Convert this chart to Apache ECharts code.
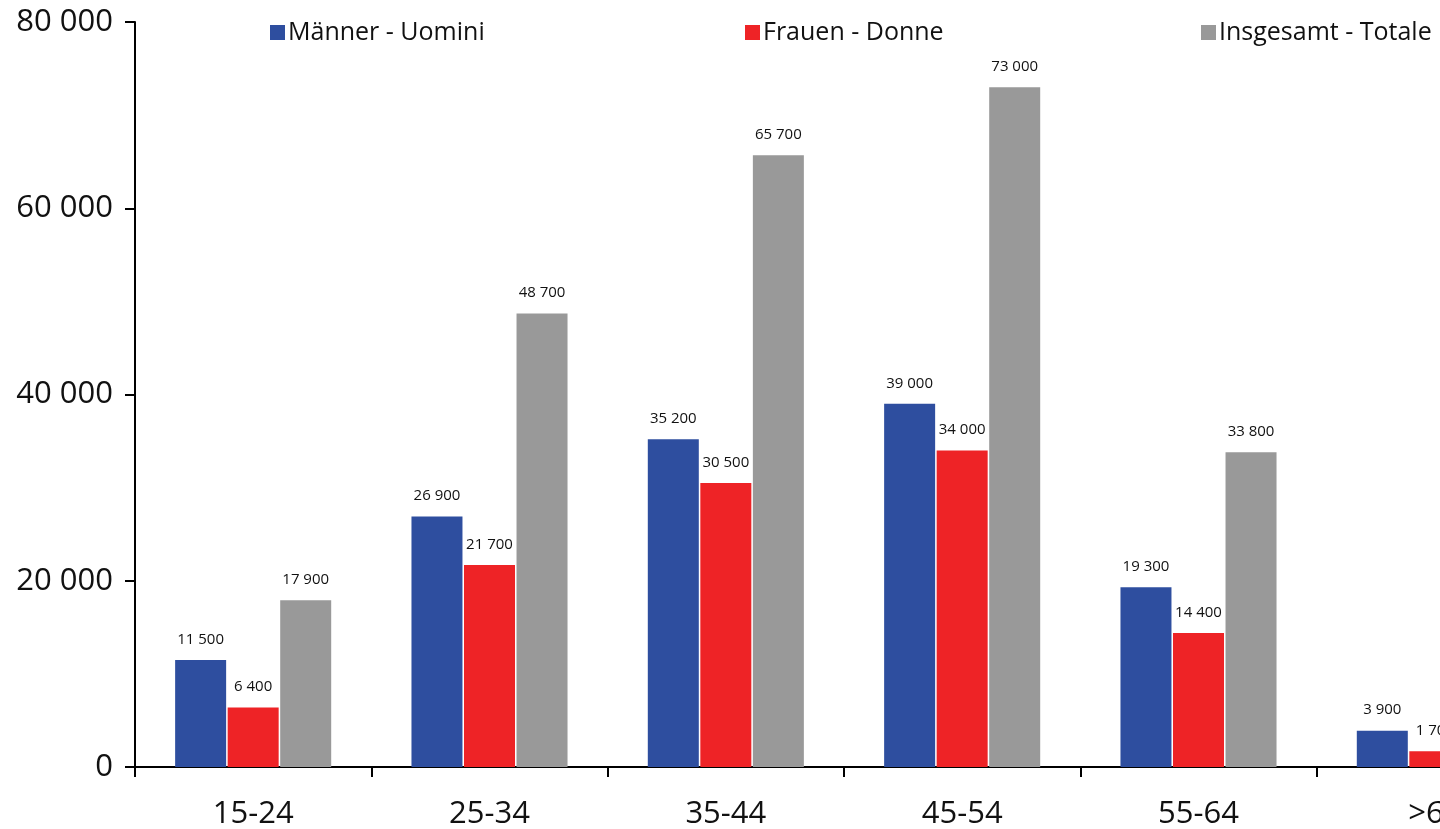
<!DOCTYPE html>
<html><head><meta charset="utf-8">
<script src="https://cdn.jsdelivr.net/npm/echarts@6/dist/echarts.min.js"></script>
<style>html,body{margin:0;padding:0;background:#fff}#c{width:1440px;height:829px}</style>
</head><body><div id="c"></div>
<script>
const categories = ['15-24','25-34','35-44','45-54','55-64','>65'];
const maenner = [11500, 26900, 35200, 39000, 19300, 3900];
const frauen = [6400, 21700, 30500, 34000, 14400, 1700];
const insgesamt = [17900, 48700, 65700, 73000, 33800, 5600];
const seriesNames = ['Männer - Uomini','Frauen - Donne','Insgesamt - Totale'];
const colors = ['#2e4e9f','#ee2326','#999999'];

const fmt = v => String(v).replace(/\B(?=(\d{3})+(?!\d))/g, ' ');
const font = '"Open Sans", "Noto Sans", sans-serif';
const chart = echarts.init(document.getElementById('c'));
const mk = (name, data, color) => ({
  name, type: 'bar', data, barWidth: 51, barGap: '3%',
  itemStyle: { color },
  label: { show: true, position: 'top', distance: 13, color: '#111', fontSize: 15, fontFamily: font, formatter: p => fmt(p.value) }
});
const legendBase = { top: 15, itemWidth: 15, itemHeight: 15, itemGap: 6, icon: 'rect', textStyle: { fontSize: 25, color: '#111', fontFamily: font, padding: [0,0,0,-2] } };
chart.setOption({
  animation: false,
  color: colors,
  legend: [
    Object.assign({}, legendBase, { left: 265, data: [seriesNames[0]] }),
    Object.assign({}, legendBase, { left: 740, data: [seriesNames[1]] }),
    Object.assign({}, legendBase, { left: 1196, data: [seriesNames[2]] })
  ],
  grid: { left: 135, top: 22, width: 1418, height: 745, outerBoundsMode: 'none', containLabel: false },
  xAxis: {
    type: 'category', data: categories,
    axisLine: { lineStyle: { color: '#000', width: 2 } },
    axisTick: { show: true, length: 10, lineStyle: { color: '#000', width: 2 } },
    axisLabel: { fontSize: 31, color: '#111', fontFamily: font, margin: 32 }
  },
  yAxis: {
    type: 'value', min: 0, max: 80000, interval: 20000,
    splitLine: { show: false },
    axisLine: { show: true, lineStyle: { color: '#000', width: 2 } },
    axisTick: { show: true, length: 10, lineStyle: { color: '#000', width: 2 } },
    axisLabel: { fontSize: 31, color: '#111', fontFamily: font, margin: 22, formatter: v => fmt(v) }
  },
  series: [
    mk(seriesNames[0], maenner, colors[0]),
    mk(seriesNames[1], frauen, colors[1]),
    mk(seriesNames[2], insgesamt, colors[2])
  ]
});
</script></body></html>
